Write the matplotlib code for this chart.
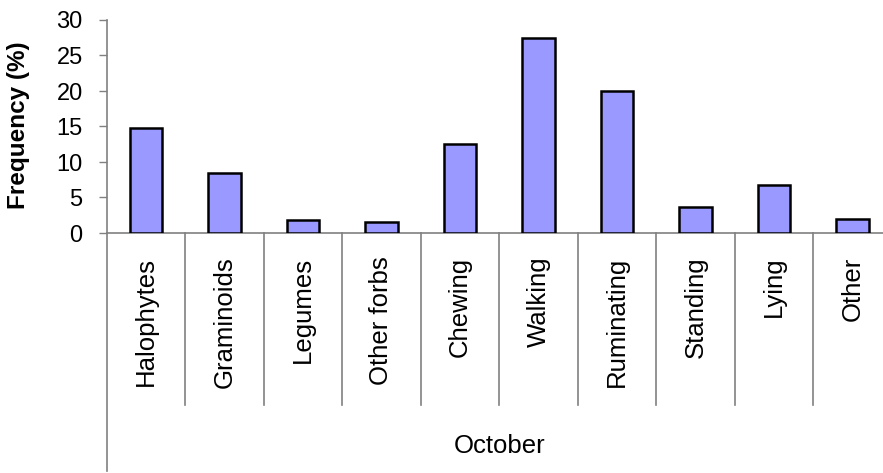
import numpy as np
import matplotlib
matplotlib.use("Agg")
import matplotlib.pyplot as plt
from matplotlib.lines import Line2D

plt.rcParams['font.family'] = ['Liberation Sans', 'DejaVu Sans']

# data
categories = ['Halophytes', 'Graminoids', 'Legumes', 'Other forbs', 'Chewing',
              'Walking', 'Ruminating', 'Standing', 'Lying', 'Other']
frequency = [14.8, 8.5, 1.9, 1.5, 12.6, 27.5, 20.0, 3.7, 6.7, 2.0]
month = 'October'
yticks = [0, 5, 10, 15, 20, 25, 30]

fig = plt.figure(figsize=(8.83, 4.73), dpi=100)
# plot area runs slightly past the right edge, as in the reference
ax = fig.add_axes([106.7/883, 1-233/473, 785/883, 213/473])

x = np.arange(len(categories))
ax.bar(x, frequency, width=0.41, color='#9999FF', edgecolor='black', linewidth=1.8, zorder=3)

ax.set_xlim(-0.5, len(categories) - 0.5)
ax.set_ylim(0, 30)
ax.set_yticks(yticks)
ax.tick_params(axis='y', direction='out', length=5.8, width=1.0, color='#808080',
               labelsize=17, pad=11.5)

ax.set_xticks(x)
ax.set_xticklabels(categories, rotation=90, fontsize=18.5)
ax.tick_params(axis='x', length=0, pad=17)

for side in ['top', 'right']:
    ax.spines[side].set_visible(False)
for side in ['left', 'bottom']:
    ax.spines[side].set_color('#808080')
    ax.spines[side].set_linewidth(1.2)

# category separators below the axis
sep_depth = 172 / 213
for b in np.arange(0.5, len(categories) - 0.5, 1.0):
    ax.add_line(Line2D([b, b], [0, -sep_depth], transform=ax.get_xaxis_transform(),
                       color='#808080', linewidth=1.2, clip_on=False))
# left axis line extends down past the month label
ax.add_line(Line2D([0, 0], [0, -238 / 213], transform=ax.transAxes,
                   color='#808080', linewidth=1.2, clip_on=False))

ax.text(0.5, -(446 - 233) / 213, month, transform=ax.transAxes, ha='center', va='center',
        fontsize=18.5)

fig.text(19/883, 1-125/473, 'Frequency (%)', rotation=90, ha='center', va='center',
         fontsize=17.5, fontweight='bold')

fig.savefig('out.png', dpi=100)
